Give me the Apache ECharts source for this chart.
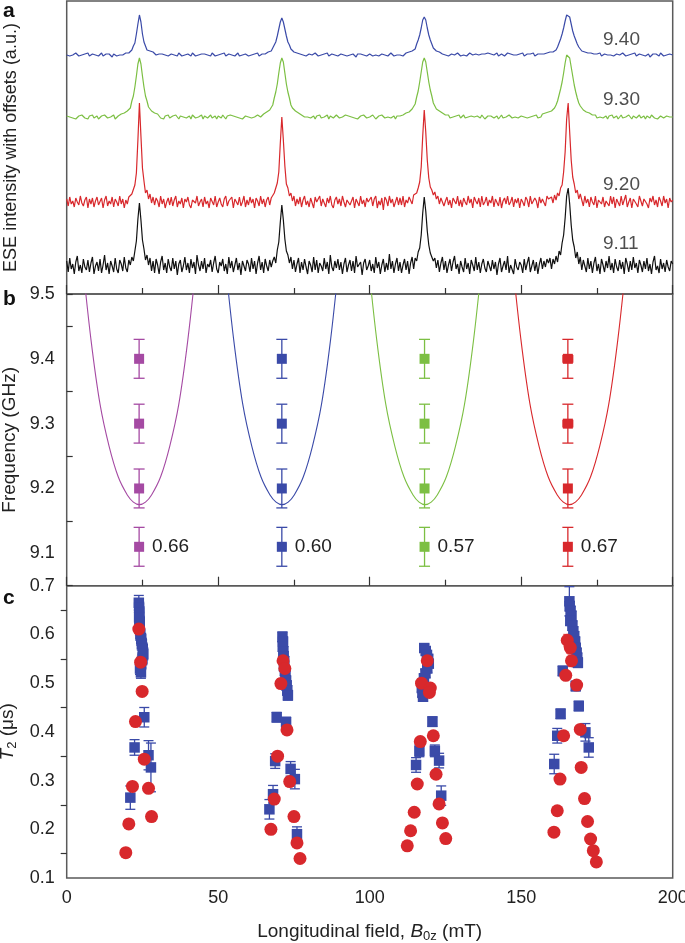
<!DOCTYPE html>
<html><head><meta charset="utf-8">
<script src="https://cdn.jsdelivr.net/npm/echarts@6/dist/echarts.min.js"></script>
<style>html,body{margin:0;padding:0;background:#fff}#c{width:685px;height:943px}</style>
</head><body><div id="c"></div>
<script>
// ---------- Panel a: ESE spectra (field in mT, 0.5 mT steps) ----------
const fieldA = [
0,0.5,1,1.5,2,2.5,3,3.5,4,4.5,5,5.5,6,6.5,7,7.5,8,8.5,9,9.5,
10,10.5,11,11.5,12,12.5,13,13.5,14,14.5,15,15.5,16,16.5,17,17.5,18,18.5,19,19.5,
20,20.5,21,21.5,22,22.5,23,23.5,24,24.5,25,25.5,26,26.5,27,27.5,28,28.5,29,29.5,
30,30.5,31,31.5,32,32.5,33,33.5,34,34.5,35,35.5,36,36.5,37,37.5,38,38.5,39,39.5,
40,40.5,41,41.5,42,42.5,43,43.5,44,44.5,45,45.5,46,46.5,47,47.5,48,48.5,49,49.5,
50,50.5,51,51.5,52,52.5,53,53.5,54,54.5,55,55.5,56,56.5,57,57.5,58,58.5,59,59.5,
60,60.5,61,61.5,62,62.5,63,63.5,64,64.5,65,65.5,66,66.5,67,67.5,68,68.5,69,69.5,
70,70.5,71,71.5,72,72.5,73,73.5,74,74.5,75,75.5,76,76.5,77,77.5,78,78.5,79,79.5,
80,80.5,81,81.5,82,82.5,83,83.5,84,84.5,85,85.5,86,86.5,87,87.5,88,88.5,89,89.5,
90,90.5,91,91.5,92,92.5,93,93.5,94,94.5,95,95.5,96,96.5,97,97.5,98,98.5,99,99.5,
100,100.5,101,101.5,102,102.5,103,103.5,104,104.5,105,105.5,106,106.5,107,107.5,108,108.5,109,109.5,
110,110.5,111,111.5,112,112.5,113,113.5,114,114.5,115,115.5,116,116.5,117,117.5,118,118.5,119,119.5,
120,120.5,121,121.5,122,122.5,123,123.5,124,124.5,125,125.5,126,126.5,127,127.5,128,128.5,129,129.5,
130,130.5,131,131.5,132,132.5,133,133.5,134,134.5,135,135.5,136,136.5,137,137.5,138,138.5,139,139.5,
140,140.5,141,141.5,142,142.5,143,143.5,144,144.5,145,145.5,146,146.5,147,147.5,148,148.5,149,149.5,
150,150.5,151,151.5,152,152.5,153,153.5,154,154.5,155,155.5,156,156.5,157,157.5,158,158.5,159,159.5,
160,160.5,161,161.5,162,162.5,163,163.5,164,164.5,165,165.5,166,166.5,167,167.5,168,168.5,169,169.5,
170,170.5,171,171.5,172,172.5,173,173.5,174,174.5,175,175.5,176,176.5,177,177.5,178,178.5,179,179.5,
180,180.5,181,181.5,182,182.5,183,183.5,184,184.5,185,185.5,186,186.5,187,187.5,188,188.5,189,189.5,
190,190.5,191,191.5,192,192.5,193,193.5,194,194.5,195,195.5,196,196.5,197,197.5,198,198.5,199,199.5,
200];
const traceLabels = ['9.40', '9.30', '9.20', '9.11'];
const traceOffsets = [239, 177, 92, 27];
const trace940 = [
0,1,-1,1,0,-1,2,0,-1,1,0,-1,1,0,2,-1,0,1,-1,0,
1,-1,0,2,-1,0,1,-1,1,0,-2,1,0,-1,1,0,1,0,1,2,
2,2,4,5,9,12,21,31,40,33,21,13,9,5,4,4,2,3,1,0,
-1,1,0,1,-1,0,2,-1,0,1,-1,0,1,-1,2,0,-1,1,0,-1,
1,0,-1,2,0,-1,1,0,-2,1,0,1,-1,0,1,-1,2,0,-1,1,
0,-1,1,0,2,-1,0,1,-1,0,1,-1,0,2,-1,1,0,-1,1,0,
-1,1,0,-1,1,0,2,-1,0,1,0,1,2,3,3,4,6,10,13,19,
26,33,37,33,26,19,13,10,6,4,3,3,2,2,1,2,0,1,-1,0,
1,-1,0,1,2,0,-1,1,0,-1,1,0,2,-1,0,1,-1,0,1,-1,
0,1,-1,0,2,-1,1,0,-1,1,0,-2,1,0,1,-1,0,2,-1,0,
1,0,-1,1,0,2,-1,0,1,-1,0,1,-1,0,2,0,-1,1,0,1,
0,1,-1,1,2,1,3,3,4,5,6,11,15,20,27,35,38,35,27,20,
15,11,7,5,4,3,3,2,1,2,0,1,-1,0,1,-1,0,1,2,0,
-1,1,0,1,-1,0,2,1,0,-1,1,2,0,-1,1,0,1,-1,2,0,
1,-1,0,1,2,-1,0,1,0,-1,1,2,0,1,-1,0,1,0,-1,1,
0,2,-1,0,1,-1,1,0,2,-1,0,1,-1,1,2,1,2,2,3,3,
3,3,4,5,8,12,16,21,27,34,40,42,38,31,24,19,15,11,8,6,
4,3,3,2,2,1,2,0,1,-1,1,0,2,-1,0,1,-1,0,1,0,
2,-1,0,1,-1,0,1,2,0,-1,1,0,-1,1,0,2,-1,0,1,-1,
0,1,-1,0,1,-2,0,1,-1,1,0,-1,2,0,-1,1,0,-1,1,0,
0];
const trace930 = [
1,-1,0,2,-1,1,-2,0,1,-1,2,0,-1,1,-2,1,0,2,-1,0,
1,-2,0,1,-1,2,0,-1,1,0,-1,2,-2,0,1,1,3,3,4,5,
6,7,9,16,21,30,41,53,59,53,41,30,21,16,10,8,6,5,4,3,
3,2,-1,1,-2,1,0,2,-1,0,1,-1,2,0,-2,1,-1,0,2,-1,
0,1,-2,2,0,-1,1,0,-1,2,-2,1,0,-1,1,2,-1,0,1,-2,
1,0,-1,2,0,-2,1,-1,2,0,1,-1,0,2,-1,1,-2,0,1,-1,
0,2,-1,1,0,-1,2,1,0,2,3,4,5,6,7,9,12,19,25,33,
44,54,59,55,44,33,25,19,12,9,7,6,5,4,3,2,1,0,1,0,
2,-1,0,1,-2,1,0,2,-1,1,0,-1,2,-2,1,0,-1,1,2,0,
-1,1,0,-2,2,0,1,-1,0,2,-1,1,-2,0,1,-1,2,0,-1,1,
0,-1,2,1,-2,0,1,-1,2,0,-1,1,0,2,-1,0,1,-2,1,0,
1,-1,2,1,4,5,5,7,8,10,13,20,26,35,45,55,59,55,45,35,
27,21,14,11,8,7,6,5,4,3,2,0,2,-1,1,0,-2,1,0,2,
-1,0,2,-1,1,0,-2,1,2,0,-1,1,0,-1,2,1,-2,0,1,-1,
1,2,-1,0,1,-2,0,2,-1,1,0,-1,2,0,-1,1,0,2,-1,0,
1,-1,0,2,-1,1,0,-2,1,0,2,-1,1,0,3,3,4,4,5,5,
6,8,9,12,16,22,28,35,44,54,62,64,59,50,41,32,25,19,14,11,
9,7,6,5,4,4,3,2,1,2,-1,1,0,2,-1,0,1,-2,1,0,
2,-1,0,1,-2,0,2,-1,1,0,-1,2,0,-2,1,1,-1,0,2,-1,
0,1,-2,1,0,-1,2,0,-1,1,-2,0,1,2,-1,0,1,-1,0,1,
0];
const trace920 = [
3,-4,5,-2,1,-5,4,0,-3,6,-1,-4,2,5,-6,3,-2,4,-5,1,
5,-3,-1,4,-6,2,6,-4,1,-2,5,-5,3,0,-4,6,-2,3,-6,2,
-2,5,3,8,6,17,29,62,99,66,34,21,9,12,3,8,-1,5,-3,4,
1,-5,6,-2,3,-6,0,4,-3,5,-4,2,6,-5,1,-2,4,-6,3,0,
5,-3,-6,2,4,-1,6,-4,0,3,-5,5,-2,1,-6,4,2,-3,6,-5,
0,4,-2,-5,3,6,-4,1,-1,5,-6,3,2,-3,5,-4,0,6,-5,2,
-3,5,-1,3,-6,4,1,-4,6,-2,3,-5,2,5,-3,4,2,9,8,19,
30,59,85,62,36,18,14,6,9,1,6,-4,3,-2,5,-5,2,6,-3,1,
-5,4,2,-6,5,0,-2,6,-4,3,1,-5,4,-1,6,-3,-6,2,5,-2,
3,-4,6,0,-5,2,4,-3,-1,5,-6,3,1,-4,6,-2,2,-5,4,0,
-2,5,-4,3,6,-6,1,-3,4,-8,5,2,-4,6,-1,3,-5,0,5,-3,
4,-3,6,-5,2,-1,5,3,-2,7,6,9,14,20,35,66,92,70,42,24,
15,12,7,10,3,6,-2,4,6,-4,1,5,-3,2,-6,4,3,-2,6,-4,
2,-5,4,0,-3,6,-1,3,-6,5,1,-2,4,-5,6,-3,0,5,-4,2,
-1,6,-5,3,2,-4,5,-6,1,4,-2,6,-3,0,5,-5,3,-1,4,-6,
3,0,-4,5,2,-5,6,-2,-3,4,1,-6,5,-1,3,2,-4,6,3,5,
5,-1,7,2,9,6,14,17,30,50,83,99,70,42,25,18,9,12,3,8,
2,-4,6,-1,3,-5,5,0,-3,6,-6,2,4,-2,5,-5,1,3,-4,6,
-2,5,-6,3,1,-4,6,-3,2,7,-5,0,4,-6,3,5,-2,-5,6,1,
-4,3,5,-2,-6,4,0,6,-3,2,-5,5,1,-4,6,-1,3,-6,4,0,
2];
const trace911 = [
6,-5,9,-2,3,-7,5,11,-4,2,-6,8,0,-3,7,-5,4,10,-7,1,
5,-4,8,-6,2,12,-3,4,-7,6,1,-5,9,-2,-6,7,3,-4,10,-1,
-5,7,2,10,6,16,26,48,64,47,27,18,7,12,2,9,-4,6,-6,8,
2,-7,5,11,-3,4,-6,8,0,-4,9,-2,6,-8,3,7,-5,1,10,-3,
4,-6,8,-1,5,-7,12,2,-4,6,-2,9,-6,3,0,7,-5,4,11,-2,
-6,5,1,8,-4,3,-7,10,-1,6,-5,2,9,-3,4,-8,6,1,-4,7,
3,-5,9,-2,6,-7,4,11,-3,5,-6,8,1,-4,7,0,6,10,4,17,
25,45,62,47,28,16,12,4,10,-2,7,-5,3,9,-6,5,-3,8,0,-7,
6,2,-5,10,-3,7,-6,4,1,-4,9,-2,5,-7,12,0,-4,6,-1,8,
-3,5,-7,3,9,-5,2,7,-4,6,-6,11,0,-2,5,-8,4,8,-3,1,
7,-4,3,-6,10,-1,5,-7,2,8,-5,4,-3,13,-2,6,-6,3,9,-4,
5,-6,2,8,-3,6,-7,4,10,-2,9,6,15,19,32,54,70,56,36,22,
14,14,6,9,-1,7,-5,4,10,-3,6,-6,2,8,-4,5,11,-2,3,-7,
6,0,-5,9,-2,4,-7,7,2,-4,10,-3,5,-6,3,8,-1,-5,6,1,
-4,7,-2,5,-8,3,9,-5,1,6,-3,11,-6,2,4,-7,8,0,-3,5,
2,-6,8,-3,4,10,-5,1,7,-4,5,-7,3,9,-2,6,0,8,4,9,
-2,8,3,11,5,16,12,24,32,49,71,79,63,42,27,20,9,15,3,10,
-3,7,1,-5,9,-2,6,-6,4,10,-4,3,-7,8,2,-5,6,-1,11,-3,
4,-6,8,0,-4,7,-2,5,-7,9,3,-5,6,-3,10,-1,4,-6,7,2,
-5,6,-2,9,-4,3,-7,5,11,-3,1,-6,8,-2,4,-5,7,0,-4,6,
3];
const traceLabelField = 177.0;
const traceLabelValue = [254, 194.5, 109.5, 50.5];

// ---------- Panel b: frequency vs field ----------
const freqB = [9.40, 9.30, 9.20, 9.11];
const freqErr = [0.03, 0.03, 0.03, 0.03];
const colFieldMag = [23.9, 23.9, 23.9, 23.9];
const colFieldBlue = [71.0, 71.0, 71.0, 71.0];
const colFieldGreen = [118.1, 118.1, 118.1, 118.1];
const colFieldRed = [165.4, 165.4, 165.4, 165.4];
const fieldErrMag = [0.5, 0.5, 0.5, 0.5];
const fieldErrBlue = [0.6, 0.9, 0.6, 1.3];
const fieldErrGreen = [1.0, 1.0, 0.8, 0.8];
const fieldErrRed = [1.6, 1.6, 0.8, 0.8];
const ratioLabels = ['0.66', '0.60', '0.57', '0.67'];
const curveF = [9.56, 9.43, 9.33, 9.265, 9.218, 9.19, 9.179, 9.175, 9.179, 9.19, 9.218, 9.265, 9.33, 9.43, 9.56];
const curveFieldMag = [5, 8, 11, 14, 17, 20, 22, 24, 26, 28, 31, 34, 37, 40, 43];
const curveFieldBlue = [52.1, 55.1, 58.1, 61.1, 64.1, 67.1, 69.1, 71.1, 73.1, 75.1, 78.1, 81.1, 84.1, 87.1, 90.1];
const curveFieldGreen = [99.3, 102.3, 105.3, 108.3, 111.3, 114.3, 116.3, 118.3, 120.3, 122.3, 125.3, 128.3, 131.3, 134.3, 137.3];
const curveFieldRed = [146.9, 149.9, 152.9, 155.9, 158.9, 161.9, 163.9, 165.9, 167.9, 169.9, 172.9, 175.9, 178.9, 181.9, 184.9];

// ---------- Panel c: T2 vs field ----------
const t2BlueField = [
23.8,23.9,24.0,23.9,24.1,24.0,24.3,24.6,24.8,25.1,25.3,25.0,24.6,24.2,24.5,25.6,22.4,27.0,27.8,21.0,
71.2,71.4,71.3,71.5,71.6,71.8,71.7,72.0,72.2,72.4,72.6,72.8,73.0,69.3,72.4,68.8,73.9,75.3,68.1,66.9,76.0,
118.0,118.5,118.9,119.3,119.5,119.0,118.4,117.9,117.5,117.2,117.4,117.6,120.7,116.4,115.3,121.5,122.9,123.6,
165.9,166.0,166.3,166.6,166.2,166.9,167.2,167.5,167.8,168.0,168.3,168.5,168.7,163.7,168.0,169.0,163.0,161.9,171.2,172.3,160.9];
const t2BlueVal = [
0.665,0.655,0.645,0.635,0.625,0.615,0.600,0.590,0.580,0.570,0.560,0.550,0.540,0.530,0.522,0.430,0.368,0.352,0.327,0.265,
0.595,0.585,0.575,0.565,0.555,0.545,0.535,0.525,0.515,0.505,0.495,0.485,0.475,0.430,0.420,0.340,0.324,0.303,0.272,0.241,0.190,
0.572,0.566,0.558,0.550,0.540,0.530,0.520,0.510,0.500,0.490,0.480,0.472,0.421,0.361,0.332,0.361,0.341,0.269,
0.668,0.658,0.648,0.638,0.628,0.618,0.606,0.596,0.585,0.572,0.562,0.552,0.542,0.525,0.494,0.453,0.437,0.392,0.399,0.368,0.334];
const t2BlueErr = [
0.015,0.012,0.012,0.012,0.012,0.012,0.012,0.012,0.012,0.012,0.012,0.012,0.012,0.012,0.012,0.020,0.016,0.030,0.050,0.024,
0.010,0.010,0.010,0.010,0.010,0.010,0.010,0.010,0.010,0.010,0.010,0.010,0.010,0.010,0.010,0.015,0.015,0.020,0.018,0.020,0.015,
0.008,0.008,0.008,0.008,0.008,0.008,0.008,0.008,0.008,0.008,0.008,0.008,0.010,0.012,0.015,0.012,0.015,0.020,
0.030,0.010,0.010,0.010,0.010,0.010,0.010,0.010,0.010,0.010,0.010,0.010,0.010,0.010,0.010,0.010,0.010,0.015,0.018,0.020,0.020];
const t2RedField = [
23.8,24.4,24.9,22.7,25.6,21.7,27.0,20.5,28.0,19.5,
71.4,72.0,70.7,72.7,69.6,73.6,68.5,75.0,67.4,76.0,77.0,
119.0,117.1,120.0,119.7,116.7,121.0,115.7,121.9,114.7,122.9,113.5,124.0,112.4,125.1,
165.2,166.2,166.6,164.7,168.3,169.5,164.0,162.8,169.8,161.9,170.9,160.8,171.9,172.9,173.8,174.8];
const t2RedVal = [
0.611,0.543,0.483,0.421,0.344,0.288,0.284,0.211,0.226,0.152,
0.546,0.530,0.499,0.404,0.350,0.298,0.262,0.226,0.200,0.172,0.140,
0.546,0.500,0.490,0.481,0.380,0.392,0.293,0.313,0.235,0.252,0.197,0.213,0.166,0.181,
0.588,0.573,0.546,0.516,0.496,0.405,0.392,0.303,0.327,0.238,0.263,0.194,0.216,0.180,0.156,0.133];
const t2RedErrY = [
0.012,0.012,0,0,0,0,0,0,0,0,
0.015,0.015,0.010,0,0,0,0,0,0,0,0,
0.015,0,0,0,0,0,0,0,0,0,0,0,0,0,
0.012,0.012,0.012,0,0,0,0,0,0,0,0,0,0,0,0,0];
const t2RedErrX = [
1.0,1.0,0,0,0,0,0,0,0,0,
1.0,1.0,0.8,0,0,0,0,0,0,0,0,
1.2,0,0,0,0,0,0,0,0,0,0,0,0,0,
1.0,1.0,1.0,0,0,0,0,0,0,0,0,0,0,0,0,0];

// ---------- styling ----------
const FONT = 'Liberation Sans, Arial, Helvetica, sans-serif';
const TXT = '#222';
const C_BLUE = '#3a4aa8', C_GREEN = '#7cbf43', C_RED = '#d8282c', C_BLACK = '#111111', C_MAG = '#a54aa3';
const traceColors = [C_BLUE, C_GREEN, C_RED, C_BLACK];
const traces = [trace940, trace930, trace920, trace911];
const TICK_FS = 18, NAME_FS = 19, ANN_FS = 19;

function errRender(color, capW, lw) {
  return function (params, api) {
    const x = api.value(0), y = api.value(1), ey = api.value(2), ex = api.value(3);
    const c = api.coord([x, y]);
    const st = { stroke: color, lineWidth: lw || 1.2, fill: null };
    const ch = [];
    if (ey > 0) {
      const t = api.coord([x, y + ey]), b = api.coord([x, y - ey]);
      ch.push({ type: 'line', shape: { x1: c[0], y1: t[1], x2: c[0], y2: b[1] }, style: st });
      ch.push({ type: 'line', shape: { x1: c[0] - capW / 2, y1: t[1], x2: c[0] + capW / 2, y2: t[1] }, style: st });
      ch.push({ type: 'line', shape: { x1: c[0] - capW / 2, y1: b[1], x2: c[0] + capW / 2, y2: b[1] }, style: st });
    }
    if (ex > 0) {
      const l = api.coord([x - ex, y]), r = api.coord([x + ex, y]);
      const h = capW * 0.7;
      ch.push({ type: 'line', shape: { x1: l[0], y1: c[1], x2: r[0], y2: c[1] }, style: st });
      ch.push({ type: 'line', shape: { x1: l[0], y1: c[1] - h / 2, x2: l[0], y2: c[1] + h / 2 }, style: st });
      ch.push({ type: 'line', shape: { x1: r[0], y1: c[1] - h / 2, x2: r[0], y2: c[1] + h / 2 }, style: st });
    }
    return { type: 'group', children: ch };
  };
}

const grids = [
  { left: 66.7, right: 12.3, top: 1, height: 293 },
  { left: 66.7, right: 12.3, top: 294, height: 291.7 },
  { left: 66.7, right: 12.3, top: 585.7, height: 292.3 }
].map(g => Object.assign({ show: true, borderColor: '#5a5a5a', borderWidth: 1.5, backgroundColor: 'transparent', outerBoundsMode: 'none', containLabel: false }, g));

const richSub = {
  it: { fontFamily: FONT, fontSize: NAME_FS, fontStyle: 'italic', color: TXT },
  sub: { fontFamily: FONT, fontSize: 13, color: TXT, padding: [10, 0, 0, 0] }
};

function xAx(i, withLabels) {
  return {
    type: 'value', gridIndex: i, min: 0, max: 200, interval: 50,
    axisLine: { show: false },
    axisTick: { show: !withLabels, inside: true, length: 9, lineStyle: { color: '#333', width: 1.2 } },
    minorTick: { show: !withLabels, splitNumber: 2, length: 6, lineStyle: { color: '#333', width: 1.2 } },
    splitLine: { show: false },
    axisLabel: { show: withLabels, fontFamily: FONT, fontSize: TICK_FS, color: TXT, margin: 11 },
    name: withLabels ? 'Longitudinal field, {it|B}{sub|0z} (mT)' : '',
    nameLocation: 'middle', nameGap: 42,
    nameTextStyle: { fontFamily: FONT, fontSize: NAME_FS, color: TXT, rich: richSub }
  };
}

const nameStyle = { fontFamily: FONT, fontSize: NAME_FS, color: TXT };

const series = [];
// panel a traces
traces.forEach((tr, k) => {
  series.push({
    type: 'line', xAxisIndex: 0, yAxisIndex: 0, showSymbol: false, symbol: 'none',
    lineStyle: { color: traceColors[k], width: 1.2 }, silent: true,
    data: fieldA.map((f, i) => [f, tr[i] + traceOffsets[k]])
  });
});
series.push({
  type: 'scatter', xAxisIndex: 0, yAxisIndex: 0, symbolSize: 0, silent: true,
  data: traceLabels.map((t, k) => ({ value: [traceLabelField, traceLabelValue[k]], name: t })),
  label: { show: true, position: 'right', distance: 0, formatter: p => p.name, fontFamily: FONT, fontSize: ANN_FS, color: TXT }
});

// panel b
const colCfg = [
  [C_MAG, colFieldMag, fieldErrMag, curveFieldMag],
  [C_BLUE, colFieldBlue, fieldErrBlue, curveFieldBlue],
  [C_GREEN, colFieldGreen, fieldErrGreen, curveFieldGreen],
  [C_RED, colFieldRed, fieldErrRed, curveFieldRed]
];
colCfg.forEach(([col, fx, fe, cf], k) => {
  series.push({
    type: 'line', xAxisIndex: 1, yAxisIndex: 1, smooth: 0.35, showSymbol: false, symbol: 'none',
    lineStyle: { color: col, width: 1.1 }, clip: true, silent: true,
    data: cf.map((f, i) => [f, curveF[i]])
  });
  series.push({
    type: 'custom', xAxisIndex: 1, yAxisIndex: 1, silent: true,
    renderItem: errRender(col, 11, 1.3), encode: { x: 0, y: 1 },
    data: freqB.map((f, i) => [fx[i], f, freqErr[i], fe[i]])
  });
  series.push({
    type: 'scatter', xAxisIndex: 1, yAxisIndex: 1, symbol: 'rect', symbolSize: 10, silent: true,
    itemStyle: { color: col, opacity: 1 },
    data: freqB.map((f, i) => {
      const d = { value: [fx[i], f] };
      if (i === 3) d.label = { show: true, position: 'right', distance: 8, formatter: ratioLabels[k],
        fontFamily: FONT, fontSize: ANN_FS, color: TXT };
      return d;
    })
  });
});

// panel c
series.push({
  type: 'custom', xAxisIndex: 2, yAxisIndex: 3, silent: true,
  renderItem: errRender(C_BLUE, 10, 1.3), encode: { x: 0, y: 1 },
  data: t2BlueField.map((f, i) => [f, t2BlueVal[i], t2BlueErr[i], 0])
});
series.push({
  type: 'scatter', xAxisIndex: 2, yAxisIndex: 3, symbol: 'rect', symbolSize: 10.5, silent: true,
  itemStyle: { color: C_BLUE, opacity: 1 },
  data: t2BlueField.map((f, i) => [f, t2BlueVal[i]])
});
series.push({
  type: 'scatter', xAxisIndex: 2, yAxisIndex: 3, symbol: 'circle', symbolSize: 13, silent: true,
  itemStyle: { color: C_RED, opacity: 1 },
  data: t2RedField.map((f, i) => [f, t2RedVal[i]])
});
series.push({
  type: 'custom', xAxisIndex: 2, yAxisIndex: 3, silent: true,
  renderItem: errRender('#e8585a', 8, 1.2), encode: { x: 0, y: 1 },
  data: t2RedField.map((f, i) => [f, t2RedVal[i], t2RedErrY[i], t2RedErrX[i]])
});

const option = {
  animation: false,
  backgroundColor: '#fff',
  textStyle: { fontFamily: FONT },
  grid: grids,
  xAxis: [xAx(0, false), xAx(1, false), xAx(2, true)],
  yAxis: [
    { type: 'value', gridIndex: 0, position: 'left', min: 0, max: 293, axisLine: { show: false }, axisTick: { show: false },
      axisLabel: { show: false }, splitLine: { show: false },
      name: 'ESE intensity with offsets (a.u.)', nameLocation: 'middle', nameGap: 47,
      nameTextStyle: { fontFamily: FONT, fontSize: 18, color: TXT } },
    { type: 'value', gridIndex: 1, position: 'left', offset: 0, min: 9.05, max: 9.5, interval: 0.05, axisLine: { show: false },
      axisTick: { show: false }, splitLine: { show: false },
      axisLabel: { fontFamily: FONT, fontSize: TICK_FS, color: TXT, margin: 12,
        formatter: v => (Math.round(v * 100) % 10 === 0 ? v.toFixed(1) : '') },
      name: 'Frequency (GHz)', nameLocation: 'middle', nameGap: 46, nameTextStyle: nameStyle },
    { type: 'value', gridIndex: 1, position: 'left', offset: 0, min: 9.05, max: 9.5, interval: 0.1, axisLine: { show: false },
      axisTick: { show: true, inside: true, length: 6, lineStyle: { color: '#333', width: 1.2 } },
      axisLabel: { show: false }, splitLine: { show: false } },
    { type: 'value', gridIndex: 2, position: 'left', min: 0.1, max: 0.7, interval: 0.1, axisLine: { show: false },
      axisTick: { show: false }, splitLine: { show: false },
      minorTick: { show: true, splitNumber: 2, length: 6, lineStyle: { color: '#333', width: 1.2 } },
      axisLabel: { fontFamily: FONT, fontSize: TICK_FS, color: TXT, margin: 12, formatter: v => v.toFixed(1) },
      name: '{it|T}{sub|2} (μs)', nameLocation: 'middle', nameGap: 46,
      nameTextStyle: { fontFamily: FONT, fontSize: NAME_FS, color: TXT, rich: richSub } }
  ],
  graphic: [
    { type: 'text', left: 3, top: 1, style: { text: 'a', font: 'bold 21px ' + FONT, fill: '#111' } },
    { type: 'text', left: 3, top: 289, style: { text: 'b', font: 'bold 21px ' + FONT, fill: '#111' } },
    { type: 'text', left: 3, top: 588, style: { text: 'c', font: 'bold 21px ' + FONT, fill: '#111' } }
  ],
  series: series
};

const chart = echarts.init(document.getElementById('c'), null, { renderer: 'canvas' });
chart.setOption(option);
</script>
</body></html>
